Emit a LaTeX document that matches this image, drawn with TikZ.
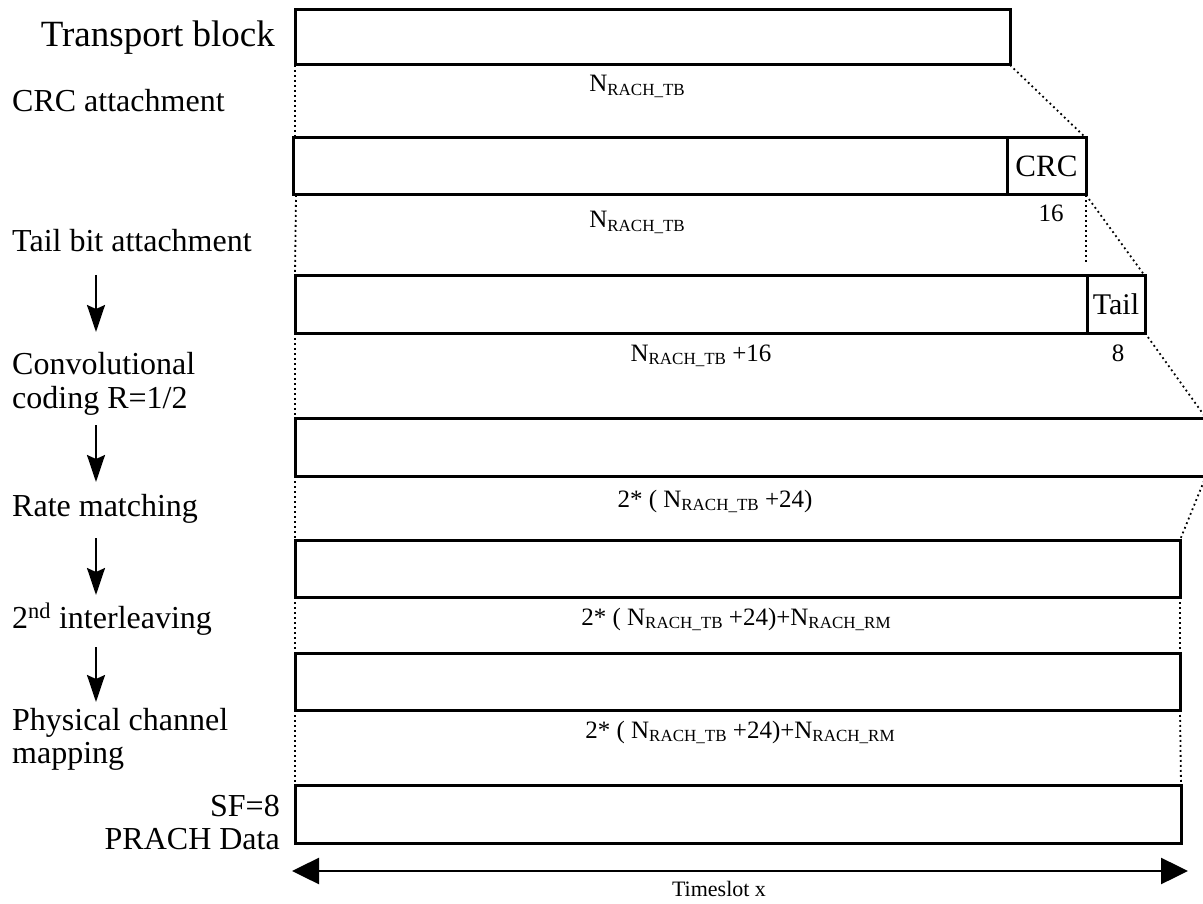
\documentclass[tikz,border=0pt]{standalone}
\usepackage{fontspec}
\setmainfont{Liberation Serif}
\usetikzlibrary{arrows.meta,calc}
\newcommand\NRTB{N\raisebox{-3.5pt}{\fontsize{17}{17}\selectfont RACH\_TB}}
\newcommand\NRRM{N\raisebox{-3.5pt}{\fontsize{17}{17}\selectfont RACH\_RM}}
\begin{document}
\begin{tikzpicture}[x=1pt,y=-1pt,
  blk/.style={draw, line width=3pt, inner sep=0pt, outer sep=0pt, rectangle},
  dots/.style={line width=1.8pt, dash pattern=on 1.8pt off 3.2pt},
  side/.style={anchor=base west, inner sep=0pt, font=\fontsize{32}{34}\selectfont},
  sider/.style={anchor=base east, inner sep=0pt, font=\fontsize{32}{34}\selectfont},
  lbl/.style={anchor=base, inner sep=0pt, font=\fontsize{25}{27}\selectfont},
  inbox/.style={font=\fontsize{31}{33}\selectfont},
  sarrow/.style={line width=2pt, -{Stealth[length=27pt,width=18pt,inset=4pt]}},
  tarrow/.style={line width=2.5pt, {Triangle[length=27pt,width=26pt]}-{Triangle[length=27pt,width=26pt]}}]
\useasboundingbox (0,0) rectangle (1203,904);
\clip (0,0) rectangle (1203,904);

% boxes
\node[blk, minimum width=715pt, minimum height=55pt] (tb) at (652.5,37.5) {};
\node[blk, minimum width=714pt, minimum height=57pt] (crcmain) at (650,166.5) {};
\node[blk, minimum width=79pt, minimum height=57pt, inbox] (crc) at (1046.5,166.5) {CRC};
\node[blk, minimum width=792pt, minimum height=57pt] (tailmain) at (691,304.5) {};
\node[blk, minimum width=58pt, minimum height=57pt, inbox, font=\fontsize{30}{32}\selectfont] (tail) at (1116,304.5) {Tail};
\node[blk, minimum width=911pt, minimum height=58pt] (conv) at (750.5,447) {};
\node[blk, minimum width=885pt, minimum height=57pt] (rm) at (737.5,568.5) {};
\node[blk, minimum width=885pt, minimum height=57pt] (il) at (737.5,681.5) {};
\node[blk, minimum width=886pt, minimum height=58pt] (ph) at (738,814) {};

% left dotted guides
\draw[dots] (tb.south west) -- (tb.south west |- crcmain.north west);
\draw[dots] ($(crcmain.south west)+(3,0)$) -- (tailmain.north west);
\draw[dots] (tailmain.south west) -- (conv.north west);
\draw[dots] (conv.south west) -- (rm.north west);
\draw[dots] (rm.south west) -- (il.north west);
\draw[dots] (il.south west) -- (ph.north west);

% right dotted guides
\coordinate (crcdrop) at (1086,262);
\draw[dots] (tb.south east) -- (crc.north east);
\draw[dots] (crc.south east) -- (crcdrop);
\draw[dots] (crc.south east) -- (tail.north east);
\draw[dots] (tail.south east) -- (conv.north east);
\draw[dots] (conv.south east) -- (rm.north east);
\draw[dots] (rm.south east) -- (il.north east);
\draw[dots] (il.south east) -- (ph.north east);

% labels under boxes
\node[lbl] (l1) at (637,92) {\NRTB};
\node[lbl] (l2) at (637,228) {\NRTB};
\node[lbl] (l2b) at (1051,222) {16};
\node[lbl] (l3) at (701,361) {\NRTB\ +16};
\node[lbl] (l3b) at (1118,361) {8};
\node[lbl] (l4) at (715,507) {2* ( \NRTB\ +24)};
\node[lbl] (l5) at (736,625) {2* ( \NRTB\ +24)+\NRRM};
\node[lbl] (l6) at (740,738) {2* ( \NRTB\ +24)+\NRRM};

% side labels
\node[anchor=base east, inner sep=0pt, font=\fontsize{37}{39}\selectfont] (s0) at (275,47) {Transport block};
\node[side] (s1) at (12,112) {CRC attachment};
\node[side] (s2) at (12,252) {Tail bit attachment};
\node[side] (s3a) at (12,374) {Convolutional};
\node[side] (s3b) at (12,408) {coding R=1/2};
\node[side] (s4) at (12,516) {Rate matching};
\node[side] (s5) at (12,628) {2\textsuperscript{nd} interleaving};
\node[side] (s6a) at (12,730) {Physical channel};
\node[side] (s6b) at (12,763) {mapping};
\node[sider] (s7a) at (280,816) {SF=8};
\node[sider] (s7b) at (280,849) {PRACH Data};

% side arrows
\coordinate (a1s) at (96,275); \coordinate (a1e) at (96,332);
\coordinate (a2s) at (96,425); \coordinate (a2e) at (96,482);
\coordinate (a3s) at (96,538); \coordinate (a3e) at (96,595);
\coordinate (a4s) at (96,647); \coordinate (a4e) at (96,702);
\draw[sarrow] (a1s) -- (a1e);
\draw[sarrow] (a2s) -- (a2e);
\draw[sarrow] (a3s) -- (a3e);
\draw[sarrow] (a4s) -- (a4e);

% timeslot arrow
\coordinate (tsl) at (292,871);
\coordinate (tsr) at (1188,871);
\draw[tarrow] (tsl) -- (tsr);
\node[anchor=base, inner sep=0pt, font=\fontsize{22}{24}\selectfont] (ts) at (719,896) {Timeslot x};
\end{tikzpicture}
\end{document}
